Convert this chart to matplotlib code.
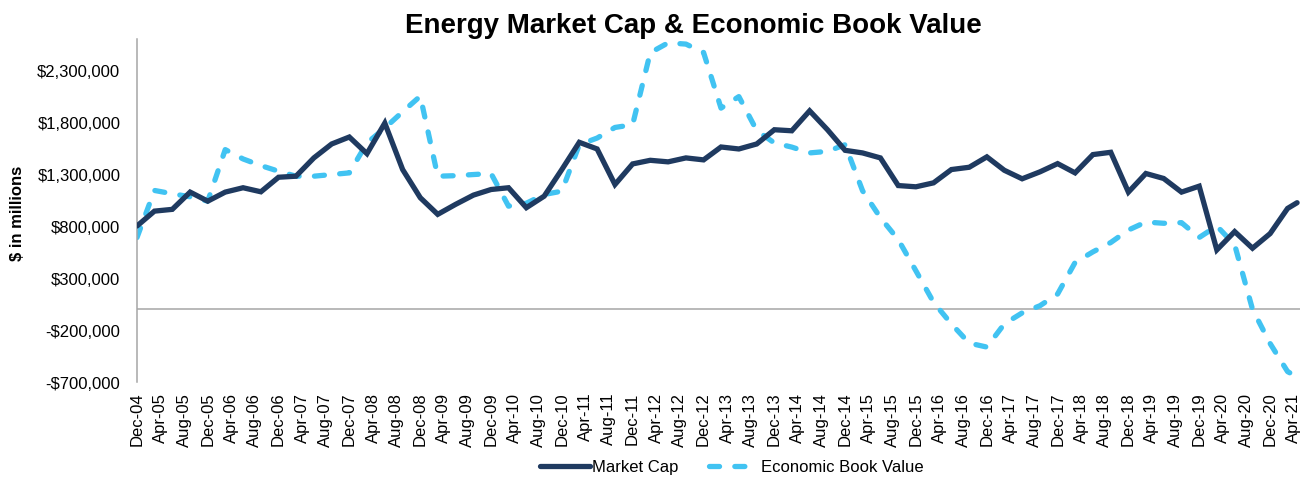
import matplotlib
matplotlib.use('Agg')

import matplotlib.pyplot as plt
import matplotlib.dates as mdates
import pandas as pd
from matplotlib.ticker import FuncFormatter

plt.rcParams['font.family'] = ['Liberation Sans', 'DejaVu Sans']

# quarterly observations Dec-04 .. Mar-21, plus the latest (mid Apr-21) point
dates = list(pd.date_range('2004-12-01', '2021-03-01', freq='3MS')) + [pd.Timestamp('2021-04-19')]

# $ in millions (thousands of $mm)
market_cap = [
    801, 944, 961, 1127, 1040, 1127, 1169, 1130, 1270, 1280,
    1456, 1590, 1657, 1497, 1791, 1344, 1073, 913, 1009, 1098,
    1152, 1169, 977, 1088, 1344, 1606, 1542, 1200, 1398, 1433,
    1418, 1456, 1437, 1561, 1542, 1590, 1727, 1717, 1909, 1727,
    1529, 1504, 1456, 1190, 1178, 1216, 1344, 1366, 1466, 1337,
    1255, 1322, 1401, 1312, 1488, 1510, 1127, 1306, 1258, 1127,
    1184, 571, 747, 587, 728, 970, 1025,
]
econ_book_value = [
    690, 1143, 1111, 1082, 1040, 1536, 1446, 1382, 1328, 1280,
    1280, 1296, 1312, 1600, 1743, 1900, 2050, 1280, 1285, 1296,
    1306, 992, 1020, 1104, 1136, 1583, 1647, 1749, 1775, 2468,
    2563, 2551, 2470, 1935, 2046, 1720, 1600, 1560, 1504, 1519,
    1583, 1140, 881, 670, 370, 67, -141, -326, -364, -141,
    -35, 34, 147, 450, 552, 642, 762, 839, 827, 833,
    690, 801, 620, 0, -330, -600, -650,
]
market_cap = [v * 1000 for v in market_cap]
econ_book_value = [v * 1000 for v in econ_book_value]

y_ticks = [-700000, -200000, 300000, 800000, 1300000, 1800000, 2300000]
x_ticks = pd.date_range('2004-12-01', '2021-04-01', freq='4MS')

navy = '#1F3A60'
sky = '#41C3F2'
grey = '#A6A6A6'

fig = plt.figure(figsize=(13.08, 4.81), dpi=100)
ax = fig.add_axes([137 / 1308, 1 - 383 / 481, (1300 - 137) / 1308, (383 - 40) / 481])

ax.plot(dates, market_cap, color=navy, lw=3.8, solid_joinstyle='miter',
        solid_capstyle='round', label='Market Cap', zorder=3)
ax.plot(dates, econ_book_value, color=sky, lw=3.8, linestyle=(0, (1.9, 2.9)),
        dash_capstyle='round', label='Economic Book Value', zorder=2)

ax.axhline(0, color=grey, lw=1.1, zorder=1)

ax.set_ylim(-700000, 2600000)
ax.set_xlim(pd.Timestamp('2004-12-01'), pd.Timestamp('2021-05-04'))
ax.set_yticks(y_ticks)
ax.yaxis.set_major_formatter(FuncFormatter(
    lambda v, p: f'${v:,.0f}' if v >= 0 else f'-${-v:,.0f}'))
ax.set_xticks(x_ticks)
ax.xaxis.set_major_formatter(mdates.DateFormatter('%b-%y'))
ax.tick_params(axis='x', length=0, pad=7, labelsize=12, labelrotation=90)
ax.tick_params(axis='y', length=0, pad=12, labelsize=12)

for side in ['top', 'right', 'bottom']:
    ax.spines[side].set_visible(False)
ax.spines['left'].set_color(grey)
ax.spines['left'].set_linewidth(1.1)

fig.text(693 / 1308, 1 - 33 / 481, 'Energy Market Cap & Economic Book Value',
         ha='center', va='baseline', fontsize=20, fontweight='bold')
fig.text(18 / 1308, 1 - 213 / 481, '$ in millions', rotation=90,
         ha='center', va='center', fontsize=12, fontweight='bold')

fig.legend(loc='center', bbox_to_anchor=(732 / 1308, 1 - 468 / 481), ncol=2,
           frameon=False, fontsize=12, handlelength=3.0, handletextpad=0.15,
           columnspacing=1.8)

fig.savefig('out.png', dpi=100, facecolor='white')
